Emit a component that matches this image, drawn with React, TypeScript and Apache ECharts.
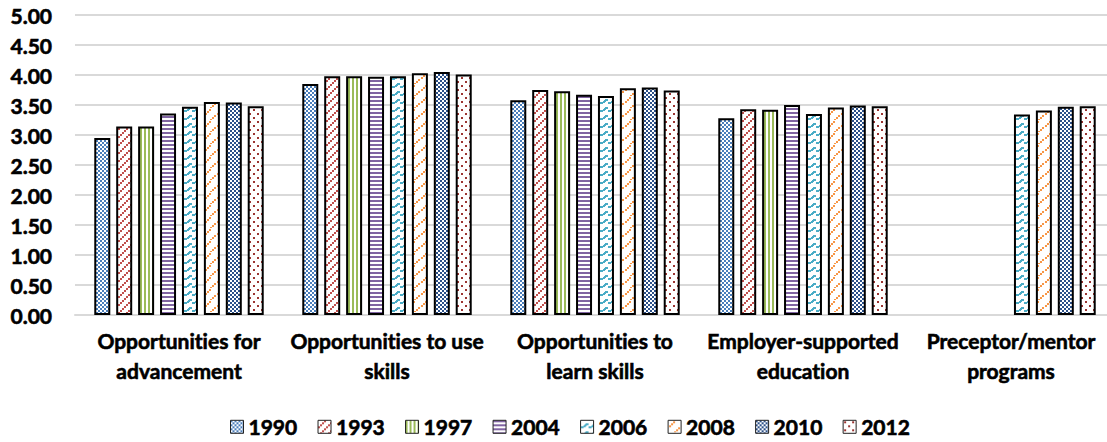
import React, { useEffect, useRef } from 'react';
import * as echarts from 'echarts';

const categories = [
  'Opportunities for\nadvancement',
  'Opportunities to use\nskills',
  'Opportunities to\nlearn skills',
  'Employer-supported\neducation',
  'Preceptor/mentor\nprograms',
];
const years = ['1990', '1993', '1997', '2004', '2006', '2008', '2010', '2012'];
const v1990 = [2.95, 3.85, 3.58, 3.28, null];
const v1993 = [3.14, 3.98, 3.75, 3.43, null];
const v1997 = [3.14, 3.98, 3.73, 3.42, null];
const v2004 = [3.36, 3.97, 3.67, 3.5, null];
const v2006 = [3.47, 3.98, 3.65, 3.35, 3.34];
const v2008 = [3.55, 4.03, 3.78, 3.46, 3.41];
const v2010 = [3.54, 4.05, 3.79, 3.49, 3.47];
const v2012 = [3.48, 4.01, 3.74, 3.48, 3.48];
const seriesValues = [v1990, v1993, v1997, v2004, v2006, v2008, v2010, v2012];
const yMin = 0;
const yMax = 5;
const yStep = 0.5;

type Draw = (ctx: CanvasRenderingContext2D) => void;

function makePattern(w: number, h: number, draw: Draw) {
  const c = document.createElement('canvas');
  c.width = w;
  c.height = h;
  const ctx = c.getContext('2d')!;
  ctx.fillStyle = '#ffffff';
  ctx.fillRect(0, 0, w, h);
  draw(ctx);
  return { image: c, repeat: 'repeat', imageWidth: w, imageHeight: h } as any;
}

function buildPatterns() {
  const checker = (color: string) => (ctx: CanvasRenderingContext2D) => {
    ctx.fillStyle = color;
    ctx.fillRect(0, 0, 2, 2);
    ctx.fillRect(2, 2, 2, 2);
  };
  return [
    makePattern(4, 4, checker('#4a7ebb')),
    makePattern(8, 8, (ctx) => {
      ctx.fillStyle = '#c0504d';
      ctx.fillRect(0, 6, 2, 2);
      ctx.fillRect(2, 4, 2, 2);
      ctx.fillRect(4, 2, 2, 2);
      ctx.fillRect(6, 0, 2, 2);
    }),
    makePattern(4, 4, (ctx) => {
      ctx.fillStyle = '#9bbb59';
      ctx.fillRect(0, 0, 2, 4);
    }),
    makePattern(4, 4, (ctx) => {
      ctx.fillStyle = '#8064a2';
      ctx.fillRect(0, 0, 4, 2);
    }),
    makePattern(8, 8, (ctx) => {
      ctx.fillStyle = '#4bacc6';
      ctx.fillRect(0, 6, 3, 2);
      ctx.fillRect(3, 5, 2, 2);
      ctx.fillRect(4, 4, 2, 2);
      ctx.fillRect(5, 3, 3, 2);
    }),
    makePattern(12, 12, (ctx) => {
      ctx.fillStyle = '#f79646';
      ctx.fillRect(1, 5, 2, 2);
      ctx.fillRect(3, 3, 2, 2);
      ctx.fillRect(5, 1, 2, 2);
      ctx.fillRect(6, 11, 2, 1);
      ctx.fillRect(8, 9, 2, 2);
      ctx.fillRect(10, 7, 2, 2);
    }),
    makePattern(4, 4, checker('#2b5089')),
    makePattern(8, 8, (ctx) => {
      ctx.fillStyle = '#9b3431';
      ctx.fillRect(1, 1, 2, 2);
      ctx.fillRect(5, 5, 2, 2);
    }),
  ];
}

export default function App() {
  const ref = useRef<HTMLDivElement>(null);
  useEffect(() => {
    if (!ref.current) return;
    const chart = echarts.init(ref.current, undefined, { renderer: 'svg' });
    const patterns = buildPatterns();
    const textBase = {
      fontFamily: 'Lato',
      fontWeight: 'bold',
      fontSize: 21,
      color: '#000',
      textBorderColor: '#000',
      textBorderWidth: 0.6,
    };
    chart.setOption({
      animation: false,
      backgroundColor: '#ffffff',
      grid: { left: 75, top: 15, width: 1040, height: 300, containLabel: false, outerBoundsMode: 'none' },
      legend: {
        data: years,
        top: 411,
        left: 225,
        itemWidth: 13,
        itemHeight: 13,
        itemGap: 20,
        icon: 'rect',
        itemStyle: { borderColor: '#222', borderWidth: 1 },
        textStyle: { ...textBase },
      },
      xAxis: {
        type: 'category',
        data: categories,
        axisTick: { show: false },
        axisLine: { lineStyle: { color: '#d9d9d9', width: 2 } },
        axisLabel: {
          ...textBase,
          interval: 0,
          margin: 10,
          lineHeight: 30,
        },
      },
      yAxis: {
        type: 'value',
        min: yMin,
        max: yMax,
        interval: yStep,
        axisLine: { show: false },
        axisTick: { show: false },
        splitLine: { lineStyle: { color: '#d9d9d9', width: 2 } },
        axisLabel: {
          ...textBase,
          margin: 23,
          formatter: (v: number) => v.toFixed(2),
        },
      },
      series: years.map((y, i) => ({
        name: y,
        type: 'bar',
        data: seriesValues[i],
        barWidth: 16,
        barGap: '37%',
        itemStyle: { color: patterns[i], borderColor: '#000', borderWidth: 2 },
      })),
    });
    return () => chart.dispose();
  }, []);
  return (
    <div
      ref={ref}
      style={{
        position: 'fixed',
        left: 0,
        top: 0,
        width: 1107,
        height: 442,
        fontVariantLigatures: 'none',
      }}
    />
  );
}
